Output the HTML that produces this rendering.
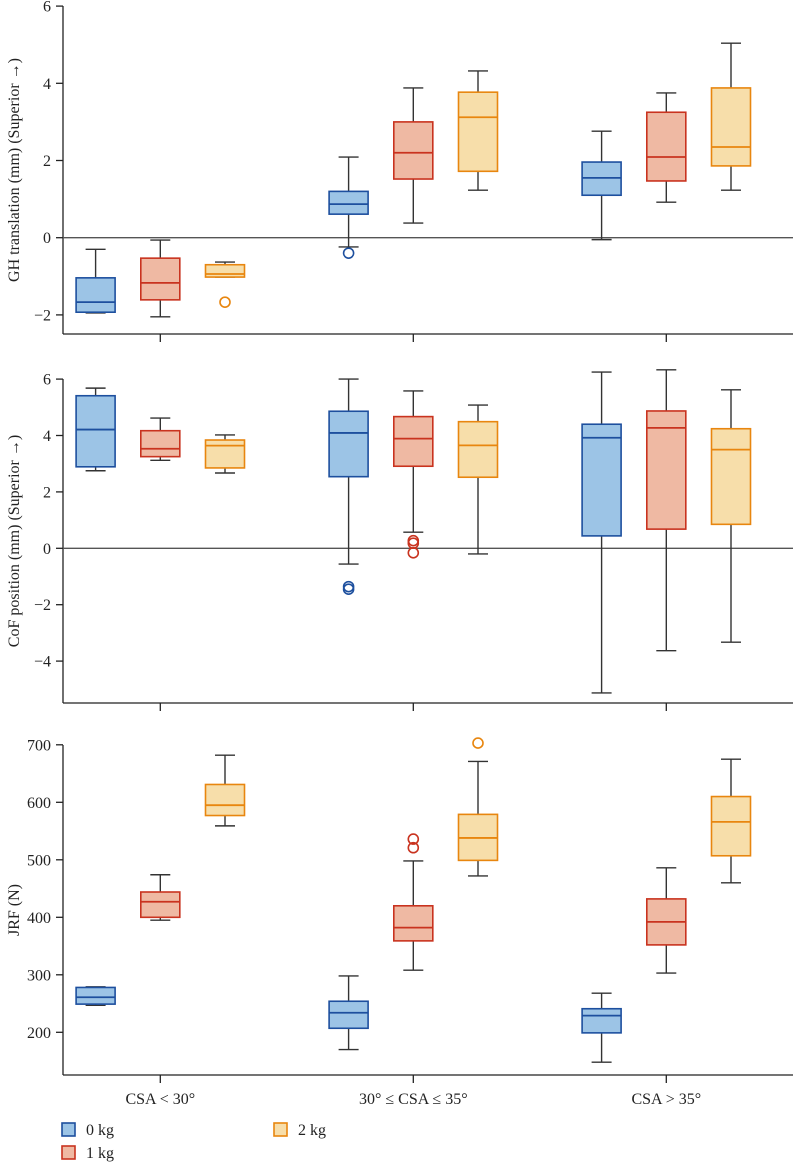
<!DOCTYPE html>
<html><head><meta charset="utf-8">
<style>
html,body{margin:0;padding:0;background:#fff;}
svg{display:block;font-family:"Liberation Serif",serif;}
</style></head>
<body>
<svg id="chart" width="793" height="1162" viewBox="0 0 793 1162" xmlns="http://www.w3.org/2000/svg"></svg>
<script>
const categories = ["CSA < 30°", "30° ≤ CSA ≤ 35°", "CSA > 35°"];
const seriesNames = ["0 kg", "1 kg", "2 kg"];
// [min, q1, median, q3, max] per category
const gh0 = [[-1.95,-1.93,-1.67,-1.04,-0.30],[-0.24,0.61,0.87,1.20,2.09],[-0.05,1.10,1.55,1.96,2.76]];
const gh1 = [[-2.05,-1.61,-1.17,-0.53,-0.06],[0.38,1.52,2.20,3.00,3.88],[0.92,1.47,2.09,3.25,3.75]];
const gh2 = [[-1.02,-1.02,-0.94,-0.70,-0.63],[1.23,1.72,3.12,3.77,4.32],[1.23,1.86,2.35,3.88,5.04]];
const ghOut0 = [[],[-0.40],[]];
const ghOut1 = [[],[],[]];
const ghOut2 = [[-1.67],[],[]];
const cof0 = [[2.75,2.89,4.21,5.41,5.68],[-0.56,2.54,4.09,4.86,6.00],[-5.13,0.44,3.92,4.40,6.25]];
const cof1 = [[3.12,3.25,3.53,4.17,4.62],[0.57,2.91,3.89,4.67,5.58],[-3.63,0.68,4.27,4.87,6.33]];
const cof2 = [[2.67,2.85,3.64,3.84,4.02],[-0.20,2.52,3.65,4.49,5.08],[-3.33,0.85,3.50,4.24,5.62]];
const cofOut0 = [[],[-1.36,-1.45],[]];
const cofOut1 = [[],[0.27,0.18,-0.16],[]];
const cofOut2 = [[],[],[]];
const jrf0 = [[247,249,261,278,279],[170,207,234,254,298],[148,199,229,241,268]];
const jrf1 = [[395,400,427,444,474],[308,359,382,420,498],[303,352,392,432,486]];
const jrf2 = [[559,577,595,631,682],[472,499,538,579,671],[460,507,566,610,675]];
const jrfOut0 = [[],[],[]];
const jrfOut1 = [[],[536,521],[]];
const jrfOut2 = [[],[703],[]];
const ghTicks = [-2,0,2,4,6];
const cofTicks = [-4,-2,0,2,4,6];
const jrfTicks = [200,300,400,500,600,700];

const NS="http://www.w3.org/2000/svg";
const svg=document.getElementById('chart');
const fills=["#9cc4e6","#efb9a3","#f7deaa"];
const strokes=["#1d4f9e","#c9331f","#e8860f"];
const axX=63, axRight=793;
function mk(tag,attrs,parent){const e=document.createElementNS(NS,tag);for(const k in attrs)e.setAttribute(k,attrs[k]);(parent||svg).appendChild(e);return e;}
function xCenter(ci,si){return 160.3+ci*253+(si-1)*64.7;}

const panels=[
 {name:"gh-translation",title:"GH translation (mm) (Superior →)",v0:0,y0:237.7,pxu:38.6,top:6,bottom:334,ticks:ghTicks,zero:true,data:[gh0,gh1,gh2],outs:[ghOut0,ghOut1,ghOut2]},
 {name:"cof-position",title:"CoF position (mm) (Superior →)",v0:0,y0:548.3,pxu:28.2,top:379,bottom:703,ticks:cofTicks,zero:true,data:[cof0,cof1,cof2],outs:[cofOut0,cofOut1,cofOut2]},
 {name:"jrf",title:"JRF (N)",v0:200,y0:1032.3,pxu:0.575,top:745,bottom:1075,ticks:jrfTicks,zero:false,data:[jrf0,jrf1,jrf2],outs:[jrfOut0,jrfOut1,jrfOut2]}
];

panels.forEach(p=>{
  const y=v=>p.y0-(v-p.v0)*p.pxu;
  const g=mk('g',{});
  
  
  const ya=mk('line',{x1:axX,y1:p.top,x2:axX,y2:p.bottom,stroke:"#222","stroke-width":1.3},g);
  
  
  const xa=mk('line',{x1:axX,y1:p.bottom,x2:axRight,y2:p.bottom,stroke:"#222","stroke-width":1.3},g);
  
  
  categories.forEach((c,ci)=>{
    const t=mk('line',{x1:xCenter(ci,1),y1:p.bottom,x2:xCenter(ci,1),y2:p.bottom+8,stroke:"#222","stroke-width":1.3},g);
    
    
  });
  p.ticks.forEach(v=>{
    const t=mk('line',{x1:axX-7,y1:y(v),x2:axX,y2:y(v),stroke:"#222","stroke-width":1.3},g);
    
    
    const l=mk('text',{x:axX-12,y:y(v)+5.5,"text-anchor":"end","font-size":16,fill:"#222"},g);
    l.textContent=v<0?"−"+Math.abs(v):String(v);
    
    
  });
  if(p.zero){
    const z=mk('line',{x1:axX,y1:y(0),x2:axRight,y2:y(0),stroke:"#555","stroke-width":1.3},g);
    
    
  }
  const cy=(p.top+p.bottom)/2;
  const tt=mk('text',{x:0,y:0,transform:`translate(19,${cy}) rotate(-90)`,"text-anchor":"middle","font-size":16,fill:"#222"},g);
  tt.textContent=p.title;
  
  
  p.data.forEach((ser,si)=>{
    ser.forEach((s,ci)=>{
      const cx=xCenter(ci,si), w=39;
      const bg=mk('g',{},g);
      
      
      mk('line',{x1:cx,y1:y(s[4]),x2:cx,y2:y(s[3]),stroke:"#333","stroke-width":1.4},bg);
      mk('line',{x1:cx,y1:y(s[0]),x2:cx,y2:y(s[1]),stroke:"#333","stroke-width":1.4},bg);
      mk('line',{x1:cx-10,y1:y(s[4]),x2:cx+10,y2:y(s[4]),stroke:"#333","stroke-width":1.4},bg);
      mk('line',{x1:cx-10,y1:y(s[0]),x2:cx+10,y2:y(s[0]),stroke:"#333","stroke-width":1.4},bg);
      mk('rect',{x:cx-w/2,y:y(s[3]),width:w,height:Math.max(1,y(s[1])-y(s[3])),fill:fills[si],stroke:strokes[si],"stroke-width":1.6},bg);
      mk('line',{x1:cx-w/2,y1:y(s[2]),x2:cx+w/2,y2:y(s[2]),stroke:strokes[si],"stroke-width":1.8},bg);
      p.outs[si][ci].forEach(o=>{
        const c=mk('circle',{cx:cx,cy:y(o),r:5,fill:"none",stroke:strokes[si],"stroke-width":1.6},bg);
        
        
      });
    });
  });
});
categories.forEach((c,ci)=>{
  const t=mk('text',{x:xCenter(ci,1),y:1104,"text-anchor":"middle","font-size":16,fill:"#222"});
  t.textContent=c;
  
  
});
const legPos=[[62,1123],[62,1146],[274,1123]];
seriesNames.forEach((n,si)=>{
  const g=mk('g',{});
  
  
  mk('rect',{x:legPos[si][0],y:legPos[si][1],width:13,height:13,fill:fills[si],stroke:strokes[si],"stroke-width":1.6},g);
  const t=mk('text',{x:legPos[si][0]+24,y:legPos[si][1]+12,"font-size":16,fill:"#222"},g);
  t.textContent=n;
});
</script>
</body></html>
